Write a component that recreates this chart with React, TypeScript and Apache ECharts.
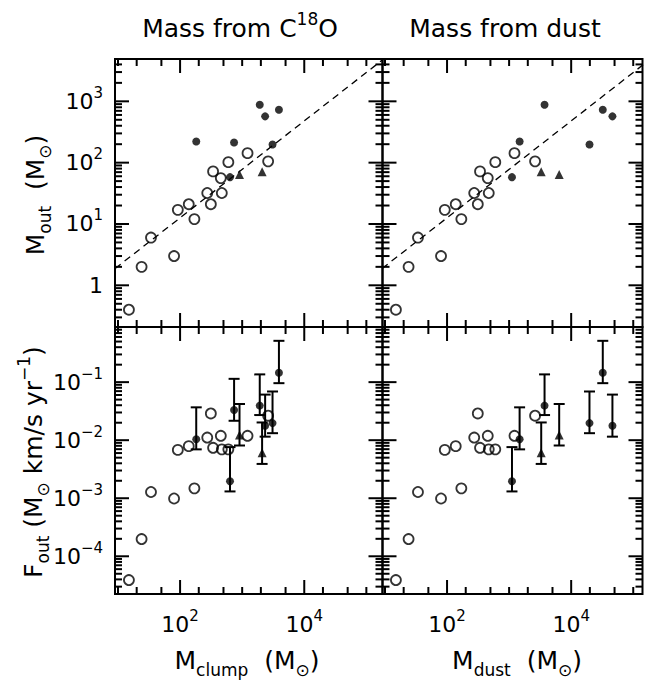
import React, { useEffect, useRef } from "react";
import * as echarts from "echarts";

const FONT = "DejaVu Sans";

// ---- data ----
// open circles: same mass in both columns
const openMass = [15, 24, 34, 80, 92, 138, 170, 274, 313, 340, 453, 470, 599, 1220, 2620];
const openMout = [0.4, 2.0, 6.0, 3.0, 17, 21, 12, 32, 21, 72, 56, 32, 102, 143, 105];
const openFout = [3.9e-5, 1.98e-4, 1.28e-3, 9.9e-4, 6.8e-3, 7.9e-3, 1.48e-3, 0.0111, 0.0289, 7.4e-3, 0.0119, 6.95e-3, 6.95e-3, 0.0119, 0.0264];

// filled circles
const fillClump = [182, 741, 637, 1919, 2343, 3908, 3083];
const fillDust: (number | null)[] = [1476, null, 1112, 3724, 46200, 32300, 19720];
const fillMout = [221, 213, 58, 882, 569, 731, 198];
const fillFout = [0.0104, 0.033, 0.00196, 0.0394, 0.0177, 0.145, 0.0197];
const fillFlo = [0.00695, 0.0216, 0.00131, 0.0271, 0.0115, 0.096, 0.0132];
const fillFhi = [0.0368, 0.114, 0.0076, 0.136, 0.061, 0.515, 0.069];

// triangles
const triClump = [906, 2094];
const triDust = [6410, 3290];
const triMout = [64, 71];
const triFout = [0.0123, 0.0061];
const triFlo = [0.0081, 0.0039];
const triFhi = [0.042, 0.0202];

// dashed relation
const dashX = [9, 180000];
const dashY = [1.88, 4700];

// axes
const xRangeL = [8.95, 182000];
const xRangeR = [9.12, 141000];
const yRangeTop = [0.209, 4900];
const yRangeBot = [2.24e-5, 0.891];

const xLabelVals = [100, 10000];
const yLabelTop = [1, 10, 100, 1000];
const yLabelBot = [1e-4, 1e-3, 1e-2, 1e-1];
const xMajorTicks = [100, 10000];
const xMinorTicks = [10, 20, 50, 200, 500, 1000, 2000, 5000, 20000, 50000, 100000];
const mantissas = [2, 3, 4, 5, 6, 7, 8, 9];
const topDecades = [0.1, 1, 10, 100, 1000];
const botDecades = [1e-5, 1e-4, 1e-3, 1e-2, 1e-1];

const labelRich = {
  b: { fontSize: 22, lineHeight: 32, fontFamily: FONT, color: "#000" },
  sup: { fontSize: 15, lineHeight: 15, verticalAlign: "top", fontFamily: FONT, color: "#000" },
};
const colTitleRich = {
  b: { fontSize: 25, lineHeight: 36, fontFamily: FONT, color: "#000" },
  sup: { fontSize: 17, lineHeight: 17, verticalAlign: "top", fontFamily: FONT, color: "#000" },
};
const axisTitleRich = {
  b: { fontSize: 25, lineHeight: 36, fontFamily: FONT, color: "#000" },
  sup: { fontSize: 17, lineHeight: 17, verticalAlign: "top", fontFamily: FONT, color: "#000" },
  sub: { fontSize: 17, lineHeight: 17, verticalAlign: "bottom", fontFamily: FONT, color: "#000" },
};

function fmt(list: number[]) {
  return (v: number) => {
    const l = Math.log10(v);
    const e = Math.round(l);
    if (Math.abs(l - e) > 1e-6) return "";
    if (!list.some((q) => Math.abs(Math.log10(q) - e) < 1e-6)) return "";
    if (e === 0) return "{b|1}";
    return `{b|10}{sup|${e < 0 ? "\u2212" + -e : e}}`;
  };
}

function inside(v: number, r: number[]) {
  return v > r[0] && v < r[1];
}

function seg(x1: number, y1: number, x2: number, y2: number, w: number) {
  return { type: "line", shape: { x1, y1, x2, y2 }, style: { stroke: "#000", lineWidth: w } };
}

function errSeries(gi: number, xs: (number | null)[], lo: number[], hi: number[]) {
  const data: number[][] = [];
  xs.forEach((x, i) => {
    if (x != null) data.push([x, lo[i], hi[i]]);
  });
  return {
    type: "custom",
    xAxisIndex: gi,
    yAxisIndex: gi,
    silent: true,
    z: 3,
    data,
    encode: { x: 0, y: [1, 2] },
    renderItem: (_p: any, api: any) => {
      const x = api.value(0);
      const a = api.coord([x, api.value(1)]);
      const b = api.coord([x, api.value(2)]);
      const w = 5.5;
      return {
        type: "group",
        children: [
          seg(a[0], a[1], b[0], b[1], 2),
          seg(a[0] - w, a[1], a[0] + w, a[1], 2),
          seg(b[0] - w, b[1], b[0] + w, b[1], 2),
        ],
      };
    },
  };
}

function pairs(xs: (number | null)[], ys: number[]) {
  const out: number[][] = [];
  xs.forEach((x, i) => {
    if (x != null) out.push([x, ys[i]]);
  });
  return out;
}

function scatterSet(gi: number, xsOpen: number[], ysOpen: number[], xsF: (number | null)[], ysF: number[], xsT: number[], ysT: number[]) {
  return [
    {
      type: "scatter",
      xAxisIndex: gi,
      yAxisIndex: gi,
      data: pairs(xsOpen, ysOpen),
      symbol: "circle",
      symbolSize: 10,
      itemStyle: { color: "rgba(0,0,0,0)", borderColor: "#000", borderWidth: 1.8 },
      z: 4,
    },
    {
      type: "scatter",
      xAxisIndex: gi,
      yAxisIndex: gi,
      data: pairs(xsF, ysF),
      symbol: "circle",
      symbolSize: 8,
      itemStyle: { color: "#000" },
      z: 4,
    },
    {
      type: "scatter",
      xAxisIndex: gi,
      yAxisIndex: gi,
      data: pairs(xsT, ysT),
      symbol: "triangle",
      symbolSize: 9,
      itemStyle: { color: "#000" },
      z: 4,
    },
  ];
}

function dashSeries(gi: number) {
  return {
    type: "line",
    xAxisIndex: gi,
    yAxisIndex: gi,
    data: pairs(dashX, dashY),
    showSymbol: false,
    symbol: "none",
    lineStyle: { color: "#000", width: 1.3, type: [7, 5] },
    clip: true,
    z: 2,
  };
}

const grids = [
  { left: 115, top: 59, width: 267.5, height: 268 },
  { left: 382.5, top: 59, width: 260, height: 268 },
  { left: 115, top: 327, width: 267.5, height: 267 },
  { left: 382.5, top: 327, width: 260, height: 267 },
];
const panelX = [xRangeL, xRangeR, xRangeL, xRangeR];
const panelY = [yRangeTop, yRangeTop, yRangeBot, yRangeBot];
const panelDecades = [topDecades, topDecades, botDecades, botDecades];
const panelYMajor = [yLabelTop, yLabelTop, yLabelBot, yLabelBot];

const textEl = (x: number, y: number, t: string, rich: any, rot = 0) => ({
  type: "text",
  x,
  y,
  rotation: rot,
  silent: true,
  z: 20,
  style: { text: t, rich, align: "center", verticalAlign: "middle", fill: "#000" },
});

const titleGraphics = [
  textEl(240, 28, "{b|Mass from C}{sup|18}{b|O}", colTitleRich),
  textEl(505, 28, "{b|Mass from dust}", colTitleRich),
  textEl(247, 660, "{b|M}{sub|clump}{b|  (M}{sub|\u2299}{b|)}", axisTitleRich),
  textEl(517, 660, "{b|M}{sub|dust}{b|  (M}{sub|\u2299}{b|)}", axisTitleRich),
  textEl(35, 195, "{b|M}{sub|out}{b|  (M}{sub|\u2299}{b|)}", axisTitleRich, Math.PI / 2),
  textEl(33, 462, "{b|F}{sub|out}{b| (M}{sub|\u2299}{b| km/s yr}{sup|\u22121}{b|)}", axisTitleRich, Math.PI / 2),
];

function buildOption() {
  const xAxis = grids.map((_, i) => ({
    type: "log",
    logBase: 10,
    gridIndex: i,
    min: panelX[i][0],
    max: panelX[i][1],
    axisLine: { show: false },
    axisTick: { show: false },
    splitLine: { show: false },
    axisLabel: {
      show: i >= 2,
      formatter: fmt(xLabelVals),
      rich: labelRich,
      margin: 14,
      fontFamily: FONT,
    },
  }));
  const yAxis = grids.map((_, i) => ({
    type: "log",
    logBase: 10,
    gridIndex: i,
    min: panelY[i][0],
    max: panelY[i][1],
    axisLine: { show: false },
    axisTick: { show: false },
    splitLine: { show: false },
    axisLabel: {
      show: i === 0 || i === 2,
      formatter: fmt(i < 2 ? yLabelTop : yLabelBot),
      rich: labelRich,
      margin: 12,
      fontFamily: FONT,
    },
  }));

  const series: any[] = [
    dashSeries(0),
    dashSeries(1),
    ...scatterSet(0, openMass, openMout, fillClump, fillMout, triClump, triMout),
    ...scatterSet(1, openMass, openMout, fillDust, fillMout, triDust, triMout),
    errSeries(2, fillClump, fillFlo, fillFhi),
    errSeries(2, triClump, triFlo, triFhi),
    errSeries(3, fillDust, fillFlo, fillFhi),
    errSeries(3, triDust, triFlo, triFhi),
    ...scatterSet(2, openMass, openFout, fillClump, fillFout, triClump, triFout),
    ...scatterSet(3, openMass, openFout, fillDust, fillFout, triDust, triFout),
  ];

  return {
    animation: false,
    backgroundColor: "#fff",
    textStyle: { fontFamily: FONT },
    grid: grids.map((g) => ({
      ...g,
      show: true,
      borderColor: "#000",
      borderWidth: 2,
      backgroundColor: "transparent",
      containLabel: false,
      outerBoundsMode: "none",
    })),
    xAxis,
    yAxis,
    series,
    graphic: titleGraphics,
  };
}

// inward frame ticks, positioned through each panel's own scales (convertToPixel)
function buildTicks(chart: any) {
  const els: any[] = [];
  grids.forEach((g, gi) => {
    const top = g.top;
    const bottom = g.top + g.height;
    const left = g.left;
    const right = g.left + g.width;
    const xr = panelX[gi];
    const yr = panelY[gi];
    const midX = Math.sqrt(xr[0] * xr[1]);
    const midY = Math.sqrt(yr[0] * yr[1]);
    const W = 2;
    const addX = (v: number, L: number) => {
      const r = chart.convertToPixel({ gridIndex: gi }, [v, midY]);
      const px = Array.isArray(r) ? Number(r[0]) : Number(r);
      if (!isFinite(px)) return;
      els.push({ ...seg(px, bottom, px, bottom - L, W), silent: true, z: 15 });
      els.push({ ...seg(px, top, px, top + L, W), silent: true, z: 15 });
    };
    const addY = (v: number, L: number) => {
      const r = chart.convertToPixel({ gridIndex: gi }, [midX, v]);
      const py = Array.isArray(r) ? Number(r[1]) : Number(r);
      if (!isFinite(py)) return;
      els.push({ ...seg(left, py, left + L, py, W), silent: true, z: 15 });
      els.push({ ...seg(right, py, right - L, py, W), silent: true, z: 15 });
    };
    xMinorTicks.filter((v) => inside(v, xr)).forEach((v) => addX(v, 7));
    xMajorTicks.filter((v) => inside(v, xr)).forEach((v) => addX(v, 14));
    panelDecades[gi].forEach((d) =>
      mantissas.forEach((m) => {
        const v = d * m;
        if (inside(v, yr)) addY(v, 7);
      })
    );
    panelYMajor[gi].filter((v) => inside(v, yr)).forEach((v) => addY(v, 14));
  });
  return els;
}

export default function App() {
  const ref = useRef<HTMLDivElement>(null);
  useEffect(() => {
    if (!ref.current) return;
    const chart = echarts.init(ref.current, undefined, { renderer: "svg" });
    chart.setOption(buildOption() as any);
    let ticks: any[] = [];
    try {
      ticks = buildTicks(chart);
    } catch (e) {
      ticks = [];
    }
    chart.setOption({ graphic: [...titleGraphics, ...ticks] } as any);
    return () => chart.dispose();
  }, []);
  return (
    <div
      ref={ref}
      style={{ position: "absolute", left: 0, top: 0, width: 646, height: 680, background: "#fff" }}
    />
  );
}
